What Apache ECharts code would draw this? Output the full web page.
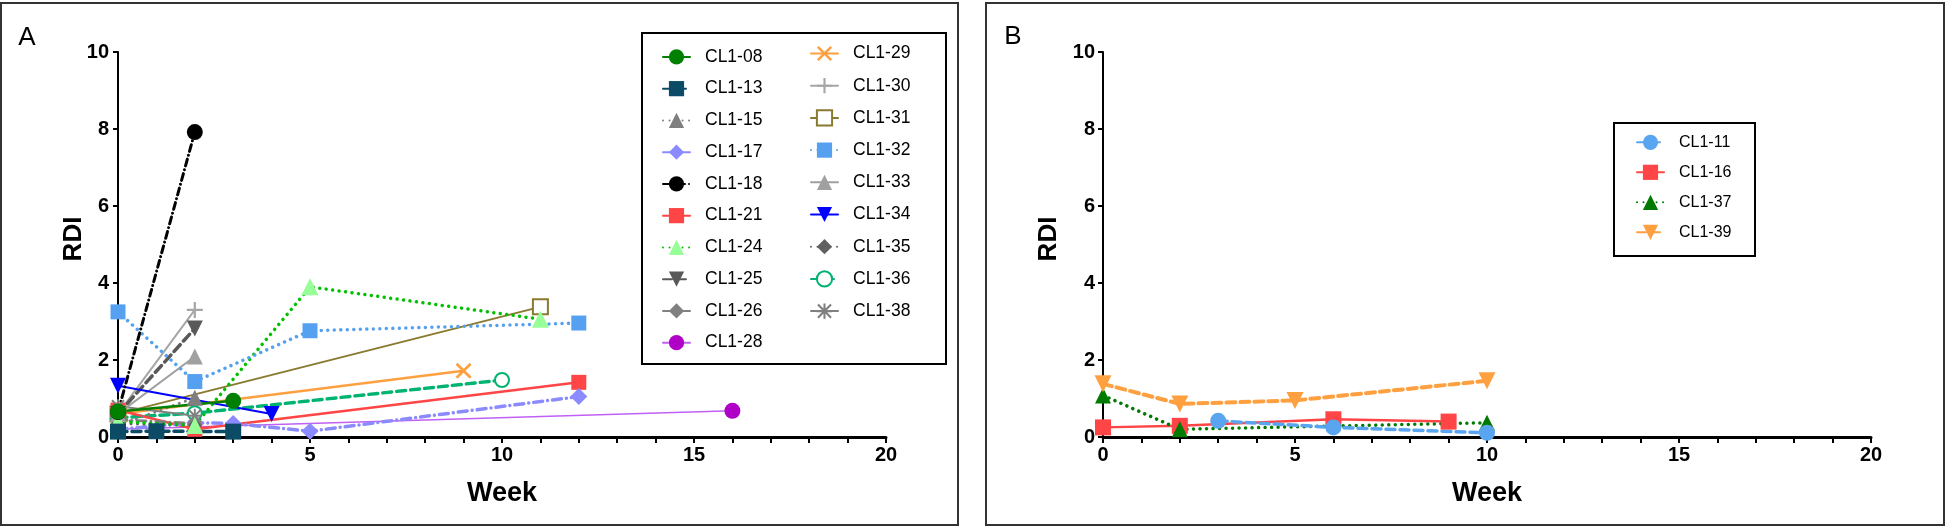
<!DOCTYPE html>
<html>
<head>
<meta charset="utf-8">
<script src="https://cdn.jsdelivr.net/npm/echarts@6/dist/echarts.min.js"></script>
<style>
html,body{margin:0;padding:0;background:#fff;}
#chart{width:1947px;height:528px;}
</style>
</head>
<body>
<div id="chart"></div>
<script>
// ---- Panel A data: [week, RDI] ----
const CL1_08 = [[0,0.66],[3,0.94]];
const CL1_13 = [[0,0.14],[1,0.15],[3,0.14]];
const CL1_15 = [[0,0.3],[2,1.02]];
const CL1_17 = [[0,0.2],[2,0.37],[3,0.35],[5,0.15],[12,1.05]];
const CL1_18 = [[0,0.65],[2,7.92]];
const CL1_21 = [[0,0.7],[2,0.2],[12,1.42]];
const CL1_24 = [[0,0.4],[2,0.3],[5,3.9],[11,3.06]];
const CL1_25 = [[0,0.6],[2,2.82]];
const CL1_26 = [[0,0.45],[2,0.35]];
const CL1_28 = [[0,0.2],[16,0.68]];
const CL1_29 = [[0,0.6],[9,1.72]];
const CL1_30 = [[0,0.6],[2,3.3]];
const CL1_31 = [[0,0.6],[11,3.38]];
const CL1_32 = [[0,3.25],[2,1.44],[5,2.76],[12,2.96]];
const CL1_33 = [[0,0.6],[2,2.09]];
const CL1_34 = [[0,1.33],[4,0.6]];
const CL1_35 = [[0,0.35],[2,0.3]];
const CL1_36 = [[0,0.5],[2,0.62],[10,1.48]];
const CL1_38 = [[0,0.8],[2,0.55]];
// ---- Panel B data ----
const CL1_11 = [[3,0.42],[6,0.25],[10,0.11]];
const CL1_16 = [[0,0.25],[2,0.29],[6,0.46],[9,0.4]];
const CL1_37 = [[0,1.08],[2,0.2],[10,0.37]];
const CL1_39 = [[0,1.38],[2,0.86],[5,0.95],[10,1.46]];

const xTicks = {min:0, max:20, interval:5};
const yTicks = {min:0, max:10, interval:2};
const legendA1 = ['CL1-08','CL1-13','CL1-15','CL1-17','CL1-18','CL1-21','CL1-24','CL1-25','CL1-26','CL1-28'];
const legendA2 = ['CL1-29','CL1-30','CL1-31','CL1-32','CL1-33','CL1-34','CL1-35','CL1-36','CL1-38'];
const legendB = ['CL1-11','CL1-16','CL1-37','CL1-39'];

const INV_TRI = 'path://M0,0 L10,0 L5,9 Z';
const XMARK = 'path://M0,1.2 L1.2,0 L5,3.8 L8.8,0 L10,1.2 L6.2,5 L10,8.8 L8.8,10 L5,6.2 L1.2,10 L0,8.8 L3.8,5 Z';
const PLUS = 'path://M4.3,0 H5.7 V4.3 H10 V5.7 H5.7 V10 H4.3 V5.7 H0 V4.3 H4.3 Z';
const STAR = 'path://M4.3,0 H5.7 V4.3 H10 V5.7 H5.7 V10 H4.3 V5.7 H0 V4.3 H4.3 Z M1.2,0.2 L5,4 L8.8,0.2 L9.8,1.2 L6,5 L9.8,8.8 L8.8,9.8 L5,6 L1.2,9.8 L0.2,8.8 L4,5 L0.2,1.2 Z';

const DOT = [0.01, 6.5];
const DASH = [9, 5];
const DASHDOT = [9, 5, 0.01, 5];

function mk(name, data, grid, color, dash, width, symbol, size, symColor) {
  return {
    name: name, type: 'line', xAxisIndex: grid, yAxisIndex: grid, data: data,
    symbol: symbol, symbolSize: size, showSymbol: true,
    itemStyle: {color: symColor || color, borderWidth: symbol.indexOf('empty') === 0 ? 2 : 0, borderColor: symColor || color},
    lineStyle: {color: color, width: width, type: dash, cap: 'round'},
    emphasis: {disabled: true}
  };
}

const series = [
  mk('CL1-28', CL1_28, 0, '#c060f5', 'solid', 1.6, 'circle', 16, '#b000c8'),
  mk('CL1-31', CL1_31, 0, '#8a7a30', 'solid', 2, 'emptyRect', 15),
  mk('CL1-29', CL1_29, 0, '#ffa040', 'solid', 2.5, XMARK, 16),
  mk('CL1-36', CL1_36, 0, '#00b371', DASH, 3.5, 'emptyCircle', 14),
  mk('CL1-21', CL1_21, 0, '#ff4545', 'solid', 2.5, 'rect', 15),
  mk('CL1-17', CL1_17, 0, '#8b8bff', DASHDOT, 3.5, 'diamond', 17),
  mk('CL1-15', CL1_15, 0, '#7f7f7f', DOT, 3, 'triangle', 16),
  mk('CL1-26', CL1_26, 0, '#808080', DASHDOT, 3, 'diamond', 15),
  mk('CL1-35', CL1_35, 0, '#606060', DOT, 3, 'diamond', 14),
  mk('CL1-38', CL1_38, 0, '#808080', 'solid', 2, STAR, 14),
  mk('CL1-33', CL1_33, 0, '#a0a0a0', 'solid', 2, 'triangle', 16),
  mk('CL1-30', CL1_30, 0, '#a6a6a6', 'solid', 2, PLUS, 16),
  mk('CL1-25', CL1_25, 0, '#595959', DASH, 3.5, INV_TRI, 16),
  mk('CL1-24', CL1_24, 0, '#00c000', DOT, 3.5, 'triangle', 17, '#98ff98'),
  mk('CL1-32', CL1_32, 0, '#55a0f0', DOT, 3.5, 'rect', 15),
  mk('CL1-34', CL1_34, 0, '#0000ff', 'solid', 2, INV_TRI, 16),
  mk('CL1-18', CL1_18, 0, '#000000', [7,4,0.01,4], 3, 'circle', 16),
  mk('CL1-08', CL1_08, 0, '#008000', 'solid', 2.5, 'circle', 16),
  mk('CL1-13', CL1_13, 0, '#0c4b66', DASH, 3.5, 'rect', 16),
  mk('CL1-16', CL1_16, 1, '#ff4545', 'solid', 2.5, 'rect', 16),
  mk('CL1-37', CL1_37, 1, '#007a00', DOT, 3.5, 'triangle', 16),
  mk('CL1-11', CL1_11, 1, '#5aa5f0', DASH, 3.5, 'circle', 16),
  mk('CL1-39', CL1_39, 1, '#ffa040', DASH, 4, INV_TRI, 17)
];

const FONT = 'Liberation Sans, Arial, sans-serif';
function xAxis(g) {
  return {type:'value', gridIndex:g, min:xTicks.min, max:xTicks.max, interval:xTicks.interval,
    axisLine:{show:true, onZero:false, lineStyle:{color:'#000', width:3}},
    axisTick:{show:true, length:6, lineStyle:{color:'#000', width:2}},
    minorTick:{show:true, splitNumber:5, length:6, lineStyle:{color:'#000', width:2}},
    splitLine:{show:false}, minorSplitLine:{show:false},
    axisLabel:{fontSize:20, fontWeight:'bold', color:'#000', margin:8, fontFamily:FONT}};
}
function yAxis(g, m) {
  return {type:'value', gridIndex:g, min:yTicks.min, max:yTicks.max, interval:yTicks.interval,
    axisLine:{show:true, lineStyle:{color:'#000', width:2}},
    axisTick:{show:true, length:5, lineStyle:{color:'#000', width:2}},
    splitLine:{show:false},
    axisLabel:{fontSize:20, fontWeight:'bold', color:'#000', margin:m, fontFamily:FONT}};
}
function legend(data, left, top, gap, fs, ih) {
  return {data:data, orient:'vertical', left:left, top:top, itemGap:gap, itemWidth:27, itemHeight:ih,
    padding:0, selectedMode:false,
    textStyle:{fontSize:fs, color:'#000', fontFamily:FONT, padding:[0,0,0,10]}};
}

const chart = echarts.init(document.getElementById('chart'), null, {renderer:'canvas'});
chart.setOption({
  animation:false,
  backgroundColor:'#fff',
  grid:[
    {left:118, top:52, width:768, height:385},
    {left:1103, top:52, width:768, height:385}
  ],
  xAxis:[xAxis(0), xAxis(1)],
  yAxis:[yAxis(0, 9), yAxis(1, 8)],
  legend:[
    legend(legendA1, 662, 47.9, 13.75, 17.5, 19),
    legend(legendA2, 810, 44.5, 14.2, 17.5, 19),
    legend(legendB, 1636, 134.3, 14, 16, 19)
  ],
  graphic:[
    {type:'rect', shape:{x:1, y:3, width:957, height:522}, style:{fill:null, stroke:'#333', lineWidth:2}, silent:true},
    {type:'rect', shape:{x:986, y:3, width:958, height:522}, style:{fill:null, stroke:'#333', lineWidth:2}, silent:true},
    {type:'rect', shape:{x:642, y:33, width:304, height:331}, style:{fill:null, stroke:'#000', lineWidth:2}, silent:true},
    {type:'rect', shape:{x:1614, y:123, width:141, height:133}, style:{fill:null, stroke:'#000', lineWidth:2}, silent:true},
    {type:'text', x:27, y:38, style:{text:'A', font:'26px '+FONT, fill:'#000', textAlign:'center', textVerticalAlign:'middle'}},
    {type:'text', x:1013, y:37, style:{text:'B', font:'26px '+FONT, fill:'#000', textAlign:'center', textVerticalAlign:'middle'}},
    {type:'text', x:74, y:239, rotation:Math.PI/2, style:{text:'RDI', font:'bold 26px '+FONT, fill:'#000', textAlign:'center', textVerticalAlign:'middle'}},
    {type:'text', x:1049, y:239, rotation:Math.PI/2, style:{text:'RDI', font:'bold 26px '+FONT, fill:'#000', textAlign:'center', textVerticalAlign:'middle'}},
    {type:'text', x:502, y:494, style:{text:'Week', font:'bold 27px '+FONT, fill:'#000', textAlign:'center', textVerticalAlign:'middle'}},
    {type:'text', x:1487, y:494, style:{text:'Week', font:'bold 27px '+FONT, fill:'#000', textAlign:'center', textVerticalAlign:'middle'}}
  ],
  series: series
});
</script>
</body>
</html>
